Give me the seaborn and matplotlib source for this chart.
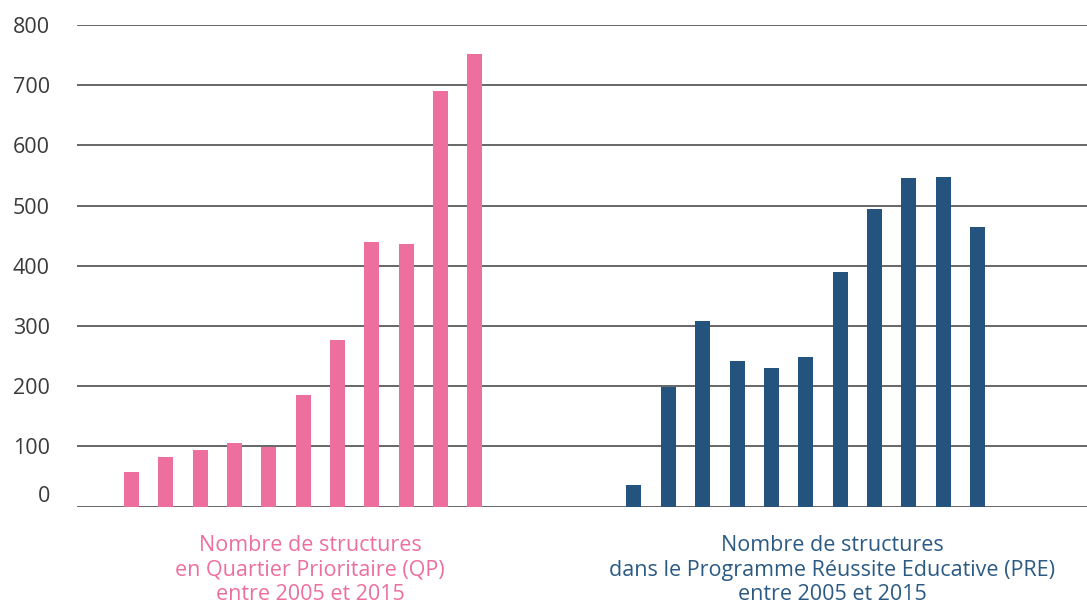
import matplotlib
matplotlib.use("Agg")
import matplotlib.pyplot as plt
import matplotlib.transforms as mtransforms
import seaborn as sns
import pandas as pd
import numpy as np

years = list(range(2005, 2016))
qp_values = [57, 82, 94, 105, 99, 185, 277, 439, 436, 690, 752]
pre_values = [36, 198, 308, 241, 230, 248, 389, 494, 546, 547, 464]
series_names = ["QP", "PRE"]
qp_label = "Nombre de structures\nen Quartier Prioritaire (QP)\nentre 2005 et 2015"
pre_label = "Nombre de structures\ndans le Programme Réussite Educative (PRE)\nentre 2005 et 2015"
y_ticks = [0, 100, 200, 300, 400, 500, 600, 700, 800]

pink = "#EC6F9E"
blue = "#24547E"

sns.set_theme(style="white")
plt.rcParams["font.family"] = ["Open Sans", "DejaVu Sans"]

group_gap = 14.63
pos = [i for i in range(len(years))] + [i + group_gap for i in range(len(years))]
df = pd.DataFrame({
    "pos": pos,
    "year": years + years,
    "value": qp_values + pre_values,
    "series": [series_names[0]] * len(years) + [series_names[1]] * len(years),
})

fig = plt.figure(figsize=(10.87, 6.06), dpi=100)
ax = fig.add_axes([77 / 1087, (606 - 506.5) / 606, 1 - 77 / 1087, (506.5 - 25) / 606])

sns.barplot(data=df, x="pos", y="value", hue="series", native_scale=True,
            palette={"QP": pink, "PRE": blue}, dodge=False, width=0.437,
            legend=False, ax=ax, saturation=1, linewidth=0)

ax.set_xlim(-1.587, 27.82)
ax.set_ylim(0, 800)
ax.set_yticks(y_ticks)
ax.set_yticklabels([str(t) for t in y_ticks])
ax.set_xticks([])
ax.set_xlabel("")
ax.set_ylabel("")
for s in ax.spines.values():
    s.set_visible(False)
ax.yaxis.grid(True, color="#5a5a5a", linewidth=1.3)
ax.set_axisbelow(True)
ax.tick_params(axis="y", length=0, pad=19.5, labelsize=15.5, labelcolor="#3a3a3a")

# raise the "0" label a bit, as in the reference
lbls = ax.get_yticklabels()
offset = mtransforms.ScaledTranslation(0, 13 / 100, fig.dpi_scale_trans)
lbls[0].set_transform(lbls[0].get_transform() + offset)

fig.text(310 / 1087, 1 - 535 / 606, qp_label, ha="center", va="top",
         color=pink, fontsize=15.5, linespacing=1.22)
fig.text(832 / 1087, 1 - 535 / 606, pre_label, ha="center", va="top",
         color="#2B5A84", fontsize=15.5, linespacing=1.22)

fig.savefig("out.png", dpi=100)
